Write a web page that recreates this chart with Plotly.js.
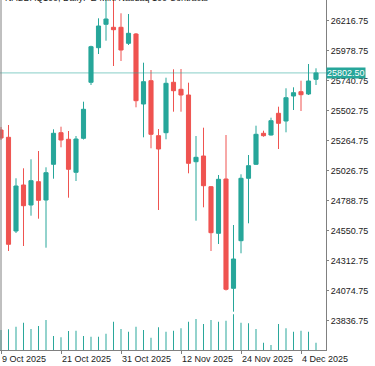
<!DOCTYPE html>
<html><head><meta charset="utf-8">
<script src="https://cdn.plot.ly/plotly-3.0.1.min.js"></script>
<style>html,body{margin:0;padding:0;background:#fff}#chart{width:375px;height:366px}</style>
</head><body><div id="chart"></div>
<script>
const dates=['2025-10-09','2025-10-10','2025-10-13','2025-10-14','2025-10-15','2025-10-16','2025-10-17','2025-10-20','2025-10-21','2025-10-22','2025-10-23','2025-10-24','2025-10-27','2025-10-28','2025-10-29','2025-10-30','2025-10-31','2025-11-03','2025-11-04','2025-11-05','2025-11-06','2025-11-07','2025-11-10','2025-11-11','2025-11-12','2025-11-13','2025-11-14','2025-11-17','2025-11-18','2025-11-19','2025-11-20','2025-11-21','2025-11-24','2025-11-25','2025-11-26','2025-11-27','2025-11-28','2025-12-01','2025-12-02','2025-12-03','2025-12-04','2025-12-05','2025-12-08'];
const openP=[25349.6,25291.7,24548.4,24913.3,24754.6,24939.5,24794.3,25077.5,25328.2,25275.9,25014.1,25283.8,25728.1,26002.6,26188.2,26164.4,26164.4,26037.4,26111.2,25555.9,25740.8,25304.4,25328.2,25728.1,25672.5,25627.3,25098.1,25143.4,24899.8,24530.1,24960.9,24093.8,24471.4,24966.5,25077.5,25323.5,25309.9,25482.1,25421.0,25619.4,25653.5,25635.2,25751.8];
const highP=[25373.4,25389.3,24966.5,25045.8,25117.2,25183.0,25053.7,25355.2,25375.8,25341.7,25302.0,25574.2,26018.4,26235.8,26396.8,26381.0,26275.5,26269.9,26119.2,25883.6,25825.6,25357.6,25764.6,25831.2,25833.6,25724.9,25302.0,25367.9,24905.4,24992.6,25309.9,24596.0,24998.2,25151.3,25383.8,25344.1,25447.2,25534.5,25680.5,25688.4,25740.8,25873.2,25839.1];
const lowP=[25270.3,24389.7,24532.5,24429.4,24669.8,24646.0,24415.9,24963.3,25212.4,24812.6,24945.1,25274.3,25706.6,25952.6,26058.1,25857.4,25897.0,26024.0,25529.7,25291.7,25204.5,24715.0,25275.9,25494.8,25494.8,25006.1,24630.1,24736.4,24389.7,24445.3,24076.3,23908.2,24371.5,24609.4,25072.0,25296.5,25306.0,25198.9,25331.4,25508.3,25500.4,25627.3,25706.6];
const closeP=[25286.0,24442.9,24905.4,24749.1,24947.4,24791.9,25010.9,25323.5,25270.3,25037.9,25278.2,25513.9,26010.5,26174.7,26230.2,26145.4,25984.3,26116.8,25582.1,25732.8,25315.5,25198.9,25720.1,25661.4,25627.3,25085.4,25133.0,24907.7,24534.9,24958.5,24085.8,24326.2,24966.5,25066.4,25315.5,25304.4,25423.4,25402.8,25605.9,25645.5,25629.7,25738.4,25802.5];
const volume=[200000,207000,233000,273000,210000,240000,300000,140000,127000,190000,193000,140000,133000,133000,163000,283000,210000,183000,233000,200000,123000,227000,183000,193000,217000,283000,310000,260000,300000,283000,293000,357000,273000,267000,210000,73000,50000,260000,217000,183000,193000,183000,73000];
const tickDates=['2025-10-09','2025-10-21','2025-10-31','2025-11-12','2025-11-24','2025-12-04'];
const tickLabels=['9 Oct 2025','21 Oct 2025','31 Oct 2025','12 Nov 2025','24 Nov 2025','4 Dec 2025'];
const priceTicks=[23836.75,24074.75,24312.75,24550.75,24788.75,25026.75,25264.75,25502.75,25740.75,25978.75,26216.75];
const chartTitle='NASDAQ100, Daily:  E-Mini Nasdaq 100 Contracts';

const UP='#26a69a', DOWN='#ef5350', AX='#808080';
const lastClose=closeP[closeP.length-1];

const traces=[
 {type:'bar', x:dates, y:volume, yaxis:'y2', width:0.13, marker:{color:UP, line:{width:0}}, hoverinfo:'skip'},
 {type:'candlestick', x:dates, open:openP, high:highP, low:lowP, close:closeP,
  increasing:{line:{color:UP,width:1}, fillcolor:UP},
  decreasing:{line:{color:DOWN,width:1}, fillcolor:DOWN},
  whiskerwidth:0, hoverinfo:'skip'}
];
const layout={
 width:375, height:366,
 margin:{l:0,r:49,t:0,b:16},
 paper_bgcolor:'#fff', plot_bgcolor:'#fff',
 showlegend:false,
 boxgap:0.45, boxgroupgap:0,
 font:{family:'"Liberation Sans", Arial, sans-serif', size:9, color:'#1a1a1a'},
 xaxis:{type:'category', range:[-0.133,43.333], tickvals:tickDates, ticktext:tickLabels,
   ticks:'outside', ticklen:3, tickcolor:AX, showline:true, linecolor:AX, linewidth:1,
   showgrid:false, zeroline:false, ticklabelposition:'outside right', tickangle:0,
   rangeslider:{visible:false}, fixedrange:true},
 yaxis:{side:'right', range:[23604.3,26380.97], tickvals:priceTicks, ticktext:priceTicks.map(v=>v.toFixed(2)),
   ticks:'outside', ticklen:2, tickcolor:AX, showline:true, linecolor:AX, linewidth:1,
   showgrid:false, zeroline:false, ticklabelstandoff:0, fixedrange:true},
 yaxis2:{overlaying:'y', range:[0,3500000], visible:false, fixedrange:true},
 shapes:[
  {type:'line', xref:'paper', x0:0, x1:1, yref:'y', y0:lastClose, y1:lastClose, line:{color:'rgba(38,166,154,0.55)', width:1}},
  {type:'line', xref:'paper', x0:1/326, x1:1/326, yref:'paper', y0:0, y1:1, line:{color:AX, width:1}}
 ],
 annotations:[
  {xref:'paper', yref:'paper', x:3/326, y:1, xanchor:'left', yanchor:'middle', yshift:2, showarrow:false,
   text:chartTitle, font:{size:9, color:'#1a1a1a'}},
  {xref:'paper', yref:'y', x:1, y:lastClose, xanchor:'left', yanchor:'middle', showarrow:false,
   text:lastClose.toFixed(2), bgcolor:UP, borderpad:0, font:{size:9, color:'#ffffff'}}
 ]
};
Plotly.newPlot('chart', traces, layout, {staticPlot:true, displayModeBar:false});
</script></body></html>
